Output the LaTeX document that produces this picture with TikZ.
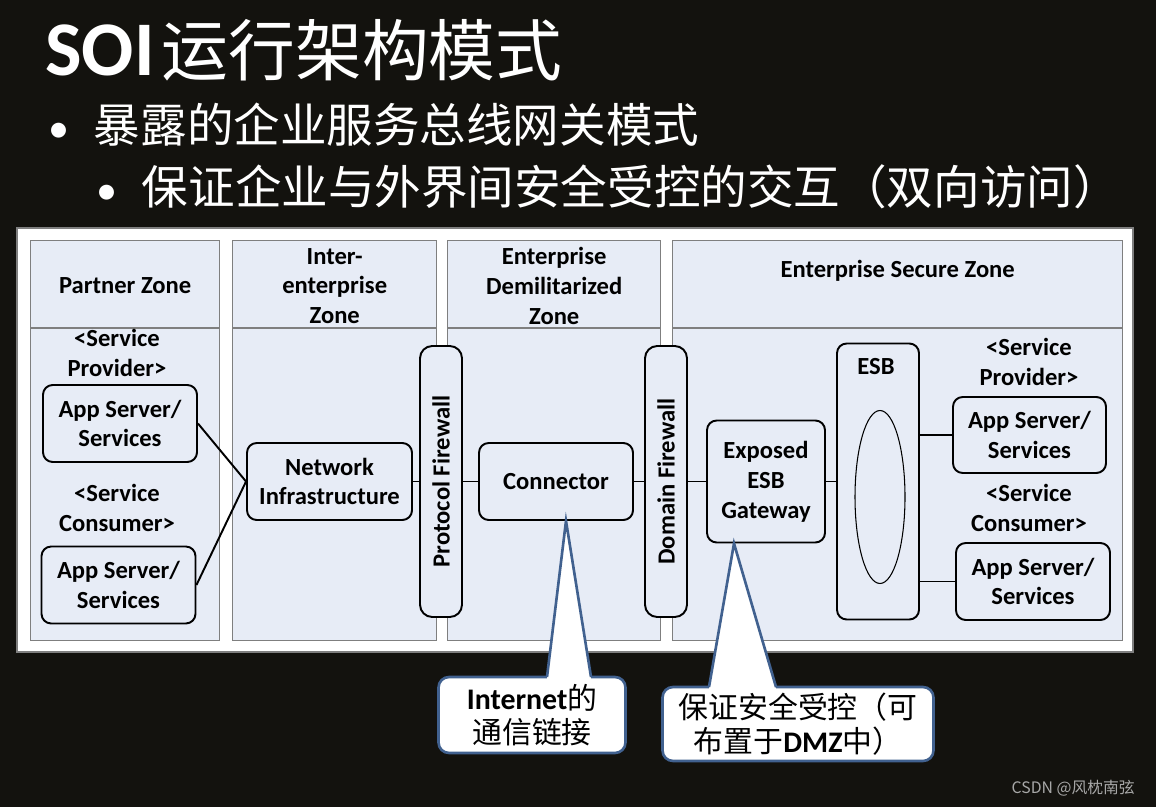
\documentclass[tikz,border=0pt]{standalone}
\usepackage{fontspec}
\setmainfont{Carlito}
\newfontfamily\cjk{Noto Sans CJK SC}
\usetikzlibrary{positioning,calc,shapes.geometric}
\definecolor{slide-bg}{HTML}{13120E}
\definecolor{zone-fill}{HTML}{E7ECF6}
\definecolor{zone-line}{HTML}{7F7F7F}
\definecolor{call-line}{HTML}{41618F}
\definecolor{mark-gray}{HTML}{A8A8A8}
\newcommand{\pxl}{0.02cm}

\begin{document}
\begin{tikzpicture}[
    x=0.02cm, y=-0.02cm,
    zone/.style={draw=zone-line, fill=zone-fill, line width=0.8pt, anchor=north west, inner sep=0pt, minimum height=400*\pxl},
    zonetitle/.style={align=center, font=\fontsize{14}{17}\selectfont\bfseries},
    box/.style={draw=black, fill=zone-fill, line width=1.1pt, rounded corners=5.5pt, align=center, inner sep=1pt, font=\fontsize{14}{17}\selectfont\bfseries},
    wall/.style={box, rotate=90, minimum width=271*\pxl, minimum height=42*\pxl, rounded corners=7pt},
    role/.style={align=center, font=\fontsize{14}{17}\selectfont\bfseries},
    link/.style={draw=black, line width=1.1pt},
    callout/.style={draw=call-line, fill=white, line width=1.5pt, rounded corners=6pt, align=center, inner sep=0pt, font=\fontsize{17}{19}\selectfont\cjk},
    tip/.style={draw=call-line, line width=1.5pt, line join=miter},
    slidetext/.style={anchor=west, text=white, inner sep=0pt}
]
\fill[slide-bg] (0,0) rectangle (1156,807);
\useasboundingbox (0,0) rectangle (1156,807);

% --- title and bullets
\node[slidetext] (title) at (45,50) {{\fontsize{44}{44}\selectfont\bfseries SOI}\hspace{4pt}{\cjk\fontsize{38}{38}\selectfont 运行架构模式}};
\node[slidetext] (bulletA) at (48,125) {\fontsize{24}{24}\selectfont •\hspace{14pt}{\cjk\fontsize{26.5}{26.5}\selectfont 暴露的企业服务总线网关模式}};
\node[slidetext] (bulletB) at (96,187) {\fontsize{24}{24}\selectfont •\hspace{14pt}{\cjk\fontsize{26.5}{26.5}\selectfont 保证企业与外界间安全受控的交互（双向访问）}};

% --- diagram frame and zones
\fill[white, draw=zone-line, line width=0.6pt] (17,228) rectangle (1133,652);
\foreach \n/\x/\w in {partner/30/189, inter/232/204, dmz/447/213, secure/672/450} {
    \node[zone, minimum width=\w*\pxl] (\n) at (\x,240) {};
    \draw[zone-line, line width=0.8pt] (\n.west |- 0,328) -- (\n.east |- 0,328);
}
\node[zonetitle] (partnerT) at (partner.north |- 0,286) {Partner Zone};
\node[zonetitle] (interT) at (inter.north |- 0,286) {Inter-\\enterprise\\Zone};
\node[zonetitle] (dmzT) at (dmz.north |- 0,286) {Enterprise\\Demilitarized\\Zone};
\node[zonetitle] (secureT) at (secure.north |- 0,271) {Enterprise Secure Zone};

% --- partner side
\node[role] (provA) at (117,353) {<Service\\Provider>};
\node[role] (consA) at (117,508) {<Service\\Consumer>};
\node[box, minimum width=154*\pxl, minimum height=77*\pxl] (psA) at (120,423.5) {App Server/\\Services};
\node[box, minimum width=154*\pxl, minimum height=77*\pxl] (psB) at (118.5,585) {App Server/\\Services};

% --- chain through the zones
\node[box, minimum width=165*\pxl, minimum height=77*\pxl] (ni) at (329.5,481.5) {Network\\Infrastructure};
\node[wall] (proto) at (441,481.5) {Protocol Firewall};
\node[box, minimum width=154*\pxl, minimum height=77*\pxl] (conn) at (556,481.5) {Connector};
\node[wall] (dom) at (666,481.5) {Domain Firewall};
\node[box, minimum width=118*\pxl, minimum height=122*\pxl] (gw) at (766,481.5) {Exposed\\ESB\\Gateway};
\node[box, minimum width=82*\pxl, minimum height=276*\pxl] (esb) at (878,481.5) {};
\node[font=\fontsize{14}{17}\selectfont\bfseries] (esbT) at (876,367) {ESB};
\node[draw=black, line width=0.6pt, ellipse, minimum width=50*\pxl, minimum height=173*\pxl, inner sep=0pt] (bus) at (880,497) {};

% --- secure side
\node[role] (provB) at (1029,362) {<Service\\Provider>};
\node[role] (consB) at (1029,508) {<Service\\Consumer>};
\node[box, minimum width=153*\pxl, minimum height=76*\pxl] (rsA) at (1029.5,435) {App Server/\\Services};
\node[box, minimum width=154*\pxl, minimum height=77*\pxl] (rsB) at (1033,581.5) {App Server/\\Services};

\draw[link] (psA.east) -- (ni.west);
\draw[link] (psB.east) -- (ni.west);
\draw[link] (ni) -- (proto);
\draw[link] (proto) -- (conn);
\draw[link] (conn) -- (dom);
\draw[link] (dom) -- (gw);
\draw[link] (gw) -- (esb);
\draw[link] (esb.east |- rsA) -- (rsA);
\draw[link] (esb.east |- rsB) -- (rsB);

% --- callouts
\node[callout, minimum width=187*\pxl, minimum height=76*\pxl] (netNote) at (532,715) {{\fontspec{Carlito}\bfseries Internet}的\\通信链接};
\node[callout, minimum width=271*\pxl, minimum height=74*\pxl] (dmzNote) at (798,724) {保证安全受控（可\\布置于{\fontspec{Carlito}\bfseries DMZ}中）};
\coordinate (netTip) at ($(conn.south)+(10,0)$);
\coordinate (gwTip) at ($(gw.south)+(-32,0)$);
\fill[white] (547,679) -- (netTip) -- (591,679) -- cycle;
\draw[tip] (547,677) -- (netTip) -- (591,677);
\fill[white] (709,689) -- (gwTip) -- (776,689) -- cycle;
\draw[tip] (709,687) -- (gwTip) -- (776,687);

% --- watermark
\node[anchor=east, text=mark-gray, font=\cjk\fontsize{9}{9}\selectfont] (mark) at (1141,788) {CSDN @风枕南弦};
\end{tikzpicture}
\end{document}
